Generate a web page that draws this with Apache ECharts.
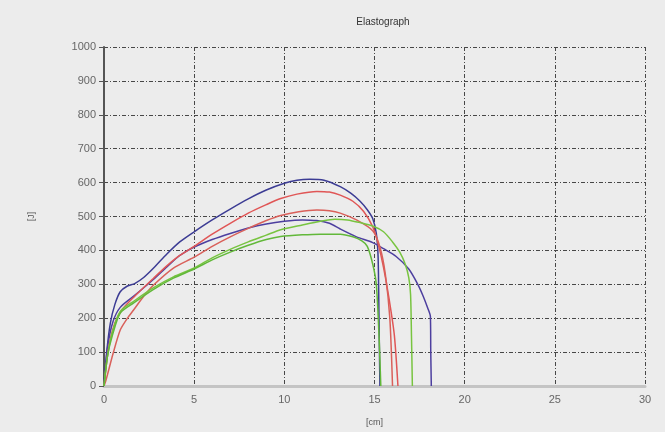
<!DOCTYPE html>
<html>
<head>
<meta charset="utf-8">
<script src="https://cdn.jsdelivr.net/npm/echarts@6/dist/echarts.min.js"></script>
<style>
    html, body { margin: 0; padding: 0; background: #ececec; }
    #cn1 { width: 665px; height: 432px; }
</style>
</head>
<body>
<div id="cn1"></div>
<script>
'use strict';

// curves: [cm, J]
const arrBlueTop = [[0,0],[0.15,100],[0.35,185],[0.6,240],[0.9,278],[1.3,295],[1.7,302],[2.2,320],[2.75,348],[3.5,390],[4.2,425],[5,455],[6,490],[7,522],[8,552],[9,578],[10,598],[10.7,607],[11.4,610],[12.2,607],[13.1,588],[13.7,568],[14.2,545],[14.6,520],[14.9,494],[15.1,450],[15.2,380],[15.25,200],[15.3,0]];
const arrBlueLow = [[0,0],[0.2,115],[0.5,190],[0.9,232],[1.65,265],[2.75,315],[3.5,352],[4.2,385],[5,410],[6,432],[7,450],[8,466],[9,478],[10,486],[11,490],[11.8,488],[12.5,480],[13.1,463],[14,440],[14.9,423],[15.5,405],[16.2,382],[16.9,345],[17.4,300],[17.7,265],[17.95,230],[18.1,205],[18.12,100],[18.15,0]];
const arrRedTop = [[0,0],[0.25,110],[0.6,185],[1,225],[1.65,262],[2.75,318],[3.5,355],[4.2,385],[5,412],[6,448],[7,480],[8,510],[9,535],[9.8,553],[10.7,566],[11.8,574],[12.5,572],[13.1,563],[13.8,545],[14.4,515],[14.9,470],[15.2,420],[15.5,350],[15.8,260],[16.1,150],[16.3,0]];
const arrRedLow = [[0,0],[0.1,15],[0.5,95],[0.9,165],[1.3,200],[1.65,225],[2.2,265],[2.75,298],[3.85,348],[5,380],[6,412],[7,440],[8,465],[9,488],[9.8,503],[10.8,514],[11.8,519],[12.5,517],[13.1,510],[14,490],[14.9,458],[15.3,410],[15.6,330],[15.85,200],[16.0,0]];
const arrGreenTop = [[0,0],[0.2,90],[0.47,160],[0.9,220],[1.65,250],[2.75,290],[3.85,322],[5,348],[6,378],[7,403],[8,425],[9,445],[9.8,461],[11,475],[12,486],[12.8,492],[13.5,490],[14.2,482],[14.9,472],[15.5,455],[16,425],[16.4,395],[16.7,360],[16.9,320],[17.0,270],[17.05,150],[17.1,0]];
const arrGreenLow = [[0,0],[0.2,90],[0.47,150],[0.9,215],[1.65,245],[2.75,285],[3.85,318],[5,345],[6,372],[7,395],[8,415],[9,432],[9.8,441],[11,446],[12,448],[13.1,448],[13.8,440],[14.3,428],[14.6,412],[14.9,360],[15.1,300],[15.25,150],[15.35,0]];

const arrCurve = [
    { name: 'blue1', data: arrBlueTop, color: '#3c3c94' },
    { name: 'blue2', data: arrBlueLow, color: '#4d3f9f' },
    { name: 'red1', data: arrRedTop, color: '#e05656' },
    { name: 'red2', data: arrRedLow, color: '#d9605a' },
    { name: 'green1', data: arrGreenTop, color: '#78c440' },
    { name: 'green2', data: arrGreenLow, color: '#62b83a' }
];

const strFont = 'Liberation Sans, Arial, sans-serif';
const gridLine = { show: true, lineStyle: { color: '#474747', width: 1, type: [4, 2, 1, 2] } };

const echartsElasto = echarts.init(cn1);

const optionElasto = {
    backgroundColor: '#ececec',
    animation: false,
    title: {
        text: 'Elastograph',
        left: 378,
        top: 12,
        textAlign: 'center',
        textStyle: { fontSize: 10, fontWeight: 'normal', color: '#333', fontFamily: strFont }
    },
    grid: { left: 104, right: 20, top: 47, bottom: 42, containLabel: false },
    xAxis: {
        type: 'value',
        min: 0,
        max: 30,
        interval: 5,
        name: '[cm]',
        nameLocation: 'middle',
        nameGap: 32,
        nameTextStyle: { fontSize: 9, color: '#555', fontFamily: strFont },
        axisLine: { onZero: false, lineStyle: { color: '#c4c4c4', width: 3 } },
        axisTick: { show: false },
        axisLabel: { fontSize: 11, color: '#666', margin: 8, fontFamily: strFont },
        splitLine: gridLine
    },
    yAxis: {
        type: 'value',
        min: 0,
        max: 1000,
        interval: 100,
        name: '[J]',
        nameLocation: 'middle',
        nameGap: 68,
        nameTextStyle: { fontSize: 9, color: '#555', fontFamily: strFont },
        axisLine: { show: true, lineStyle: { color: '#555', width: 2 } },
        axisTick: { show: true, length: 5, lineStyle: { color: '#555' } },
        axisLabel: { fontSize: 11, color: '#666', margin: 8, fontFamily: strFont, formatter: v => String(v) },
        splitLine: gridLine
    },
    series: arrCurve.map(c => ({
        name: c.name,
        type: 'line',
        data: c.data,
        showSymbol: false,
        smooth: 0.25,
        lineStyle: { color: c.color, width: 1.5 },
        itemStyle: { color: c.color }
    }))
};

echartsElasto.setOption(optionElasto);
</script>
</body>
</html>
